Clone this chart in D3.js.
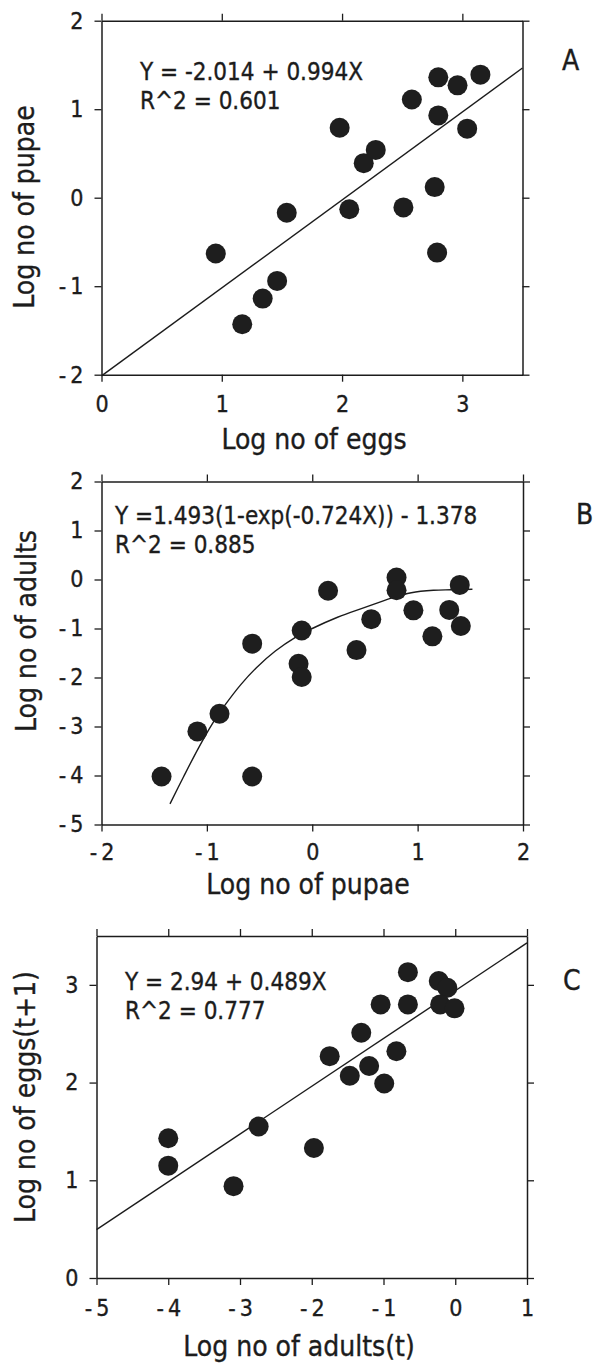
<!DOCTYPE html>
<html>
<head>
<meta charset="utf-8">
<script src="https://cdn.jsdelivr.net/npm/d3@7"></script>
<style>
  body { margin: 0; background: #fff; }
  svg text { font-family: "DejaVu Sans Condensed", "DejaVu Sans", sans-serif; font-stretch: condensed; fill: #1c1c1c; stroke: #1c1c1c; stroke-width: 0.35px; }
</style>
</head>
<body>
<svg id="chart" width="606" height="1371"></svg>
<script>
// ---- Panel A: log eggs vs log pupae ----
const eggsA  = [0.95, 1.17, 1.34, 1.46, 1.54, 1.98, 2.06, 2.18, 2.28, 2.51, 2.58, 2.77, 2.80, 2.80, 2.79, 2.96, 3.04, 3.15];
const pupaeA = [-0.63, -1.43, -1.14, -0.94, -0.17, 0.79, -0.13, 0.39, 0.54, -0.11, 1.11, 0.12, 1.36, 0.93, -0.62, 1.27, 0.78, 1.39];
const fitA = { intercept: -2.014, slope: 0.994 };
const eqA = ["Y = -2.014 + 0.994X", "R^2 = 0.601"];

// ---- Panel B: log pupae vs log adults ----
const pupaeB  = [-1.43, -1.09, -0.88, -0.57, -0.57, -0.10, -0.13, -0.10, 0.15, 0.42, 0.56, 0.80, 0.80, 0.96, 1.14, 1.30, 1.40, 1.41];
const adultsB = [-4.02, -3.10, -2.74, -4.02, -1.31, -1.04, -1.72, -1.99, -0.23, -1.44, -0.81, 0.04, -0.22, -0.63, -1.16, -0.62, -0.11, -0.95];
// fitted saturating curve as plotted
const curveBx = [-1.35, -1.22, -1.08, -0.95, -0.82, -0.68, -0.53, -0.35, -0.16, 0, 0.24, 0.50, 0.75, 0.94, 1.15, 1.32, 1.52];
const curveBy = [-4.58, -4.02, -3.44, -2.95, -2.54, -2.15, -1.80, -1.46, -1.18, -1.00, -0.77, -0.57, -0.38, -0.27, -0.22, -0.21, -0.20];
const eqB = ["Y =1.493(1-exp(-0.724X)) - 1.378", "R^2 = 0.885"];

// ---- Panel C: log adults(t) vs log eggs(t+1) ----
const adultsC = [-4.00, -4.00, -3.09, -2.74, -1.97, -1.75, -1.47, -1.31, -1.20, -1.04, -0.99, -0.82, -0.66, -0.66, -0.23, -0.11, -0.21, -0.01];
const eggsC   = [1.43, 1.15, 0.94, 1.55, 1.33, 2.27, 2.07, 2.51, 2.17, 2.80, 1.99, 2.32, 3.13, 2.80, 3.04, 2.97, 2.80, 2.76];
const fitC = { intercept: 2.94, slope: 0.489 };
const eqC = ["Y = 2.94 + 0.489X", "R^2 = 0.777"];

// tick values
const ticksAx = [0, 1, 2, 3];
const ticksAy = [-2, -1, 0, 1, 2];
const ticksBx = [-2, -1, 0, 1, 2];
const ticksBy = [-5, -4, -3, -2, -1, 0, 1, 2];
const ticksCx = [-5, -4, -3, -2, -1, 0, 1];
const ticksCy = [0, 1, 2, 3];

const svg = d3.select("#chart");
const ink = "#1c1c1c";
const fmt = d => d < 0 ? "-\u2009" + Math.abs(d) : String(d);

function panel(o) {
  const x = d3.scaleLinear().domain(o.xDom).range(o.xRange);
  const y = d3.scaleLinear().domain(o.yDom).range(o.yRange);
  const g = svg.append("g");
  const [x0, x1] = o.xRange, [y0, y1] = o.yRange; // y0 bottom, y1 top

  const style = sel => {
    sel.select(".domain").attr("stroke", ink).attr("stroke-width", 1.5);
    sel.selectAll(".tick line").attr("stroke", ink).attr("stroke-width", 1.3);
    sel.selectAll(".tick text").attr("font-size", 23).attr("fill", ink)
      .style("font-family", "\"DejaVu Sans Condensed\", \"DejaVu Sans\", sans-serif");
  };

  g.append("g").attr("transform", `translate(0,${y0})`)
    .call(d3.axisBottom(x).tickValues(o.xTicks).tickSize(7).tickSizeOuter(0).tickPadding(o.xPad).tickFormat(fmt))
    .call(style);
  g.append("g").attr("transform", `translate(0,${y1})`)
    .call(d3.axisTop(x).tickValues(o.xTicks).tickSize(7).tickSizeOuter(0).tickFormat(""))
    .call(style);
  g.append("g").attr("transform", `translate(${x0},0)`)
    .call(d3.axisLeft(y).tickValues(o.yTicks).tickSize(7).tickSizeOuter(0).tickPadding(11).tickFormat(fmt))
    .call(style);
  g.append("g").attr("transform", `translate(${x1},0)`)
    .call(d3.axisRight(y).tickValues(o.yTicks).tickSize(7).tickSizeOuter(0).tickFormat(""))
    .call(style);

  // fitted line or curve
  g.append("path")
    .datum(o.fit)
    .attr("fill", "none").attr("stroke", ink).attr("stroke-width", 1.4)
    .attr("d", d3.line().x(d => x(d[0])).y(d => y(d[1])).curve(d3.curveCatmullRom.alpha(0.5)));

  // observations
  g.append("g").selectAll("circle")
    .data(o.xs.map((v, i) => [v, o.ys[i]]))
    .join("circle")
    .attr("cx", d => x(d[0])).attr("cy", d => y(d[1])).attr("r", 10)
    .attr("fill", "#1e1e1e");

  // equation text
  g.append("text").attr("x", o.eqPos[0]).attr("y", o.eqPos[1])
    .attr("font-size", 24).text(o.eq[0]);
  g.append("text").attr("x", o.eqPos[0]).attr("y", o.eqPos[1] + 29)
    .attr("font-size", 24).text(o.eq[1]);

  // axis titles
  g.append("text").attr("x", o.xTitlePos[0]).attr("y", o.xTitlePos[1])
    .attr("text-anchor", "middle").attr("font-size", 28).text(o.xTitle);
  g.append("text")
    .attr("transform", `translate(${o.yTitlePos[0]},${o.yTitlePos[1]}) rotate(-90)`)
    .attr("text-anchor", "middle").attr("font-size", 28).text(o.yTitle);

  // panel letter
  g.append("text").attr("x", o.letterPos[0]).attr("y", o.letterPos[1])
    .attr("font-size", 28).text(o.letter);
}

const lineA = [0, 3.5].map(v => [v, fitA.intercept + fitA.slope * v]);
const lineC = [-5, 1].map(v => [v, fitC.intercept + fitC.slope * v]);

panel({
  xDom: [0, 3.5], yDom: [-2, 2], xRange: [101.5, 522.5], yRange: [374.7, 20.7],
  xTicks: ticksAx, yTicks: ticksAy, xs: eggsA, ys: pupaeA, fit: lineA, xPad: 14,
  eq: eqA, eqPos: [140, 80],
  xTitle: "Log no of eggs", xTitlePos: [314, 449],
  yTitle: "Log no of pupae", yTitlePos: [34, 207],
  letter: "A", letterPos: [562, 70]
});

panel({
  xDom: [-2, 2], yDom: [-5, 2], xRange: [101.5, 523], yRange: [824.5, 481.5],
  xTicks: ticksBx, yTicks: ticksBy, xs: pupaeB, ys: adultsB, xPad: 12,
  fit: curveBx.map((v, i) => [v, curveBy[i]]),
  eq: eqB, eqPos: [115, 524],
  xTitle: "Log no of pupae", xTitlePos: [308, 894],
  yTitle: "Log no of adults", yTitlePos: [36, 631],
  letter: "B", letterPos: [576, 524]
});

panel({
  xDom: [-5, 1], yDom: [0, 3.5], xRange: [96.5, 527], yRange: [1278, 936],
  xTicks: ticksCx, yTicks: ticksCy, xs: adultsC, ys: eggsC, fit: lineC, xPad: 15,
  eq: eqC, eqPos: [125, 990],
  xTitle: "Log no of adults(t)", xTitlePos: [299, 1356],
  yTitle: "Log no of eggs(t+1)", yTitlePos: [35, 1097],
  letter: "C", letterPos: [563, 990]
});
</script>
</body>
</html>
